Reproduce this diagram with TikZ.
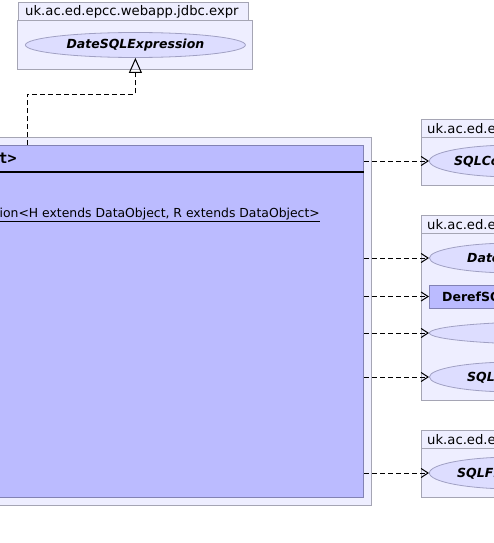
\documentclass[tikz,border=0pt]{standalone}
\usepackage{fontspec}
\setmainfont{DejaVu Sans}
\setmonofont{DejaVu Sans Mono}
\usetikzlibrary{positioning,shapes.geometric,arrows.meta}
\definecolor{packageFill}{RGB}{238,238,255}
\definecolor{packageLine}{RGB}{165,165,180}
\definecolor{classFill}{RGB}{187,187,255}
\definecolor{classLine}{RGB}{130,130,180}
\definecolor{ellipseFill}{RGB}{221,221,255}
\definecolor{ellipseLine}{RGB}{160,160,195}
\tikzstyle{diagram} = [x = 1pt, y = -1pt, font=\fontsize{13.2}{16}\selectfont]
\tikzstyle{packageStyle} = [draw=packageLine, fill=packageFill, line width=1pt, inner sep=0, anchor=north west]
\tikzstyle{classStyle} = [draw=classLine, fill=classFill, line width=1pt, inner sep=0, anchor=north west]
\tikzstyle{ellipseStyle} = [ellipse, draw=ellipseLine, fill=ellipseFill, line width=0.8pt, inner sep=0, anchor=west]
\tikzstyle{labelText} = [inner sep=0, anchor=base west]
\tikzstyle{nameText} = [inner sep=0, anchor=base west, font=\fontsize{12.5}{15}\selectfont\bfseries\itshape]
\tikzstyle{dependency} = [line width=1pt, dash pattern=on 5pt off 3pt, -{Straight Barb[length=7pt,width=9pt,line width=1pt]}]
\tikzstyle{realization} = [line width=1pt, dash pattern=on 5pt off 3pt, -{Triangle[open,length=15pt,width=13pt,line width=1pt]}]

\begin{document}
\begin{tikzpicture}[diagram]
  \useasboundingbox (0,0) rectangle (494,543);
  \clip (0,0) rectangle (494,543);

  % package of the interface
  \node [packageStyle, minimum width=230, minimum height=18] (exprTab) at (18,2) {};
  \node [labelText] (exprLabel) at (25,16) {uk.ac.ed.epcc.webapp.jdbc.expr};
  \node [packageStyle, minimum width=235, minimum height=49] (exprBody) at (17,20) {};
  \node [ellipseStyle, minimum width=220, minimum height=25, font=\fontsize{12.5}{15}\selectfont\bfseries\itshape] (dateExpr) at (25,45) {DateSQLExpression};

  % the class itself
  \node [packageStyle, minimum width=671, minimum height=368] (mainPkg) at (-300,137) {};
  \node [classStyle, minimum width=663, minimum height=352] (mainClass) at (-300,145) {};
  \coordinate (headerRule) at (0,172);
  \draw [line width=2pt] (mainClass.west |- headerRule) -- (mainClass.east |- headerRule);
  \node [inner sep=0, anchor=base east, font=\fontsize{15}{18}\selectfont\ttfamily\bfseries] (mainName) at (17,163) {DerefDateSQLExpression<H extends DataObject, R extends DataObject>};
  \node [inner sep=0, anchor=base east, font=\fontsize{12.4}{15}\selectfont] (mainCtor) at (320,217) {\underline{DerefDateSQLExpression<H extends DataObject, R extends DataObject>}};

  % right hand packages
  \node [packageStyle, minimum width=200, minimum height=18] (ctxTab) at (421,119) {};
  \node [labelText] (ctxLabel) at (427,133) {uk.ac.ed.epcc.webapp.jdbc.expr};
  \node [packageStyle, minimum width=200, minimum height=48] (ctxBody) at (421,137) {};
  \node [ellipseStyle, minimum width=170, minimum height=32] (sqlContext) at (429,161) {};
  \node [nameText] (sqlContextName) at (454,165.5) {SQLContext};

  \node [packageStyle, minimum width=200, minimum height=18] (valTab) at (421,215) {};
  \node [labelText] (valLabel) at (427,229) {uk.ac.ed.epcc.webapp.jdbc.expr};
  \node [packageStyle, minimum width=200, minimum height=167] (valBody) at (421,233) {};
  \node [ellipseStyle, minimum width=170, minimum height=30] (dateValue) at (429,258) {};
  \node [nameText] (dateValueName) at (467,262.5) {DateSQLValue};
  \node [classStyle, anchor=west, minimum width=170, minimum height=23] (derefExpr) at (429,296.5) {};
  \node [labelText, font=\fontsize{12.5}{15}\selectfont\bfseries] (derefExprName) at (442,301) {DerefSQLExpression};
  \node [ellipseStyle, minimum width=260, minimum height=23] (hiddenExpr) at (429,333) {};
  \node [ellipseStyle, minimum width=170, minimum height=30] (sqlValue) at (429,377) {};
  \node [nameText] (sqlValueName) at (467,381.5) {SQLValue};

  \node [packageStyle, minimum width=200, minimum height=18] (filterTab) at (421,430) {};
  \node [labelText] (filterLabel) at (427,444) {uk.ac.ed.epcc.webapp.jdbc.filter};
  \node [packageStyle, minimum width=200, minimum height=49] (filterBody) at (421,448) {};
  \node [ellipseStyle, minimum width=170, minimum height=32] (sqlFilter) at (429,473) {};
  \node [nameText] (sqlFilterName) at (457,477.5) {SQLFilter};

  % realization
  \coordinate (bendLow) at (27,94);
  \draw [realization] (bendLow |- mainClass.north) -- (bendLow) -| (dateExpr.south);

  % dependencies
  \foreach \target in {sqlContext, dateValue, derefExpr, hiddenExpr, sqlValue, sqlFilter} {
    \draw [dependency] (mainClass.east |- \target.west) -- (\target.west);
  }
\end{tikzpicture}
\end{document}
